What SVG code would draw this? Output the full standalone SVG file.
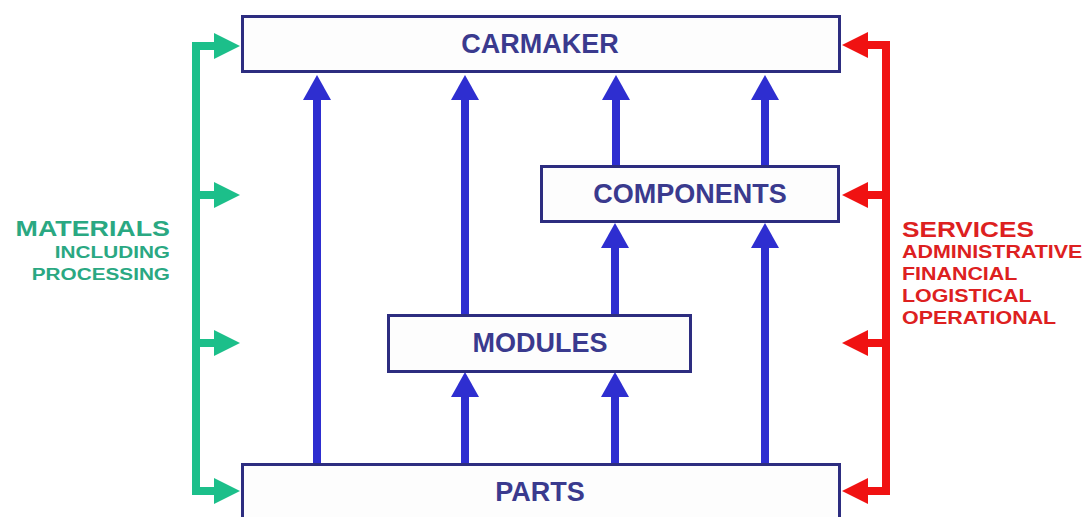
<svg xmlns="http://www.w3.org/2000/svg" width="1090" height="517" viewBox="0 0 1090 517">
<style>
.box{fill:#fdfdfd;stroke:#2d2d80;stroke-width:3}
.lbl{font-family:"Liberation Sans",Arial,sans-serif;font-weight:bold;font-size:27px;fill:#3a3a8e;text-anchor:middle}
.blue{fill:none;stroke:#2e2ed0;stroke-width:8}
.green{fill:none;stroke:#1cbf8a;stroke-width:8}
.red{fill:none;stroke:#f01212;stroke-width:8}
.side{font-family:"Liberation Sans",Arial,sans-serif;font-weight:bold}
.gt{fill:#2aa882}
.rt{fill:#dd2020}
</style>
<defs>
<marker id="hb" markerUnits="userSpaceOnUse" markerWidth="25" markerHeight="28" refX="0" refY="14" orient="auto" viewBox="0 0 25 28"><path d="M0,0 L25,14 L0,28 Z" fill="#2e2ed0"/></marker>
<marker id="hg" markerUnits="userSpaceOnUse" markerWidth="26" markerHeight="26" refX="0" refY="13" orient="auto-start-reverse" viewBox="0 0 26 26"><path d="M0,0 L26,13 L0,26 Z" fill="#1cbf8a"/></marker>
<marker id="hr" markerUnits="userSpaceOnUse" markerWidth="26" markerHeight="26" refX="0" refY="13" orient="auto-start-reverse" viewBox="0 0 26 26"><path d="M0,0 L26,13 L0,26 Z" fill="#f01212"/></marker>
</defs>
<rect width="1090" height="517" fill="#ffffff"/>
<g id="connectors">
<path class="blue" d="M317,463 V100" marker-end="url(#hb)"/>
<path class="blue" d="M465,463 V397" marker-end="url(#hb)"/>
<path class="blue" d="M465,314 V100" marker-end="url(#hb)"/>
<path class="blue" d="M615,463 V397" marker-end="url(#hb)"/>
<path class="blue" d="M615,314 V248" marker-end="url(#hb)"/>
<path class="blue" d="M765,463 V248" marker-end="url(#hb)"/>
<path class="blue" d="M616,165 V100" marker-end="url(#hb)"/>
<path class="blue" d="M765,165 V100" marker-end="url(#hb)"/>
<path class="green" d="M214,46 H196 V491 H214" marker-start="url(#hg)" marker-end="url(#hg)"/>
<path class="green" d="M196,195 H214" marker-end="url(#hg)"/>
<path class="green" d="M196,343 H214" marker-end="url(#hg)"/>
<path class="red" d="M868,45 H886 V491 H868" marker-start="url(#hr)" marker-end="url(#hr)"/>
<path class="red" d="M886,195 H868" marker-end="url(#hr)"/>
<path class="red" d="M886,343 H868" marker-end="url(#hr)"/>
</g>
<g id="carmaker"><rect class="box" x="242.5" y="16.5" width="597" height="55"/><text class="lbl" x="540" y="53">CARMAKER</text></g>
<g id="components"><rect class="box" x="541.5" y="166.5" width="297" height="55"/><text class="lbl" x="690" y="203">COMPONENTS</text></g>
<g id="modules"><rect class="box" x="388.5" y="315.5" width="302" height="56"/><text class="lbl" x="540" y="352">MODULES</text></g>
<g id="parts"><rect class="box" x="242.5" y="464.5" width="597" height="60"/><text class="lbl" x="540" y="501">PARTS</text></g>
<g id="materials" class="side gt" transform="translate(170,0) scale(1.22,1)" text-anchor="end">
<text x="0" y="236" font-size="22">MATERIALS</text>
<text x="0" y="258" font-size="17">INCLUDING</text>
<text x="0" y="280" font-size="17">PROCESSING</text>
</g>
<g id="services" class="side rt" transform="translate(902,0) scale(1.19,1)">
<text x="0" y="237" font-size="22">SERVICES</text>
<text x="0" y="258" font-size="18">ADMINISTRATIVE</text>
<text x="0" y="280" font-size="18">FINANCIAL</text>
<text x="0" y="302" font-size="18">LOGISTICAL</text>
<text x="0" y="324" font-size="18">OPERATIONAL</text>
</g>
</svg>
